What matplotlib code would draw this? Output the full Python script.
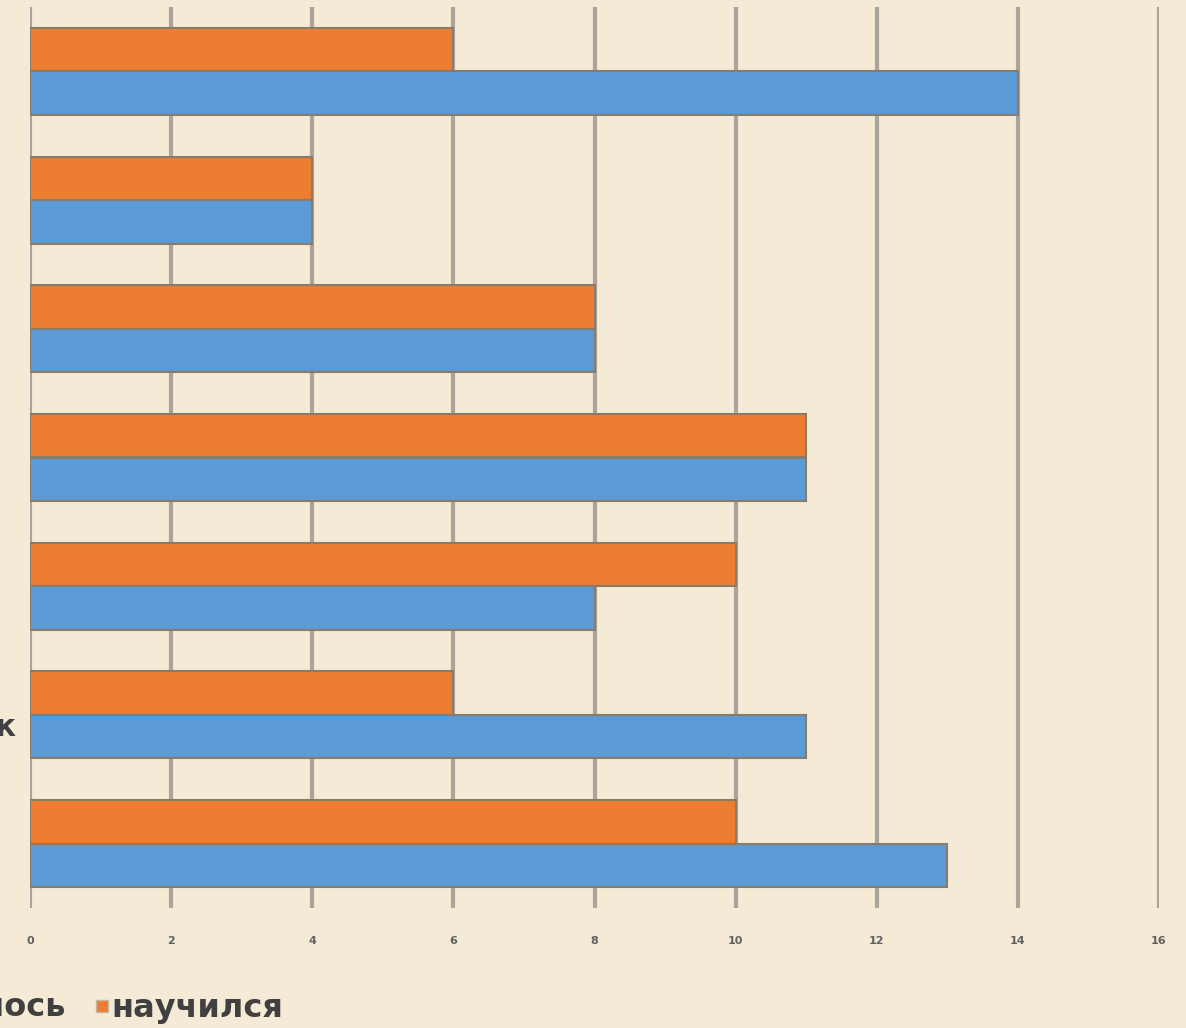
import matplotlib
matplotlib.use("Agg")
import matplotlib.pyplot as plt
import numpy as np

categories = ["1", "2", "3", "4", "5", "6", "7"]
learned = [6, 4, 8, 11, 10, 6, 10]      # научился (orange)
wanted = [14, 4, 8, 11, 8, 11, 13]      # ...ось (blue)
xticks = [0, 2, 4, 6, 8, 10, 12, 14, 16]

W, H = 1186, 1028
fig = plt.figure(figsize=(W / 100, H / 100), dpi=100)
bg = "#F4EAD6"
fig.patch.set_facecolor(bg)
ax = fig.add_axes([30 / W, 1 - 908 / H, (1159 - 30) / W, (908 - 7) / H])
ax.set_facecolor(bg)

y = np.arange(len(categories))
h = 0.338
ax.barh(y - h / 2, learned, height=h, color="#ED7D31", edgecolor="#8a7a6a", linewidth=1.5, zorder=3)
ax.barh(y + h / 2, wanted, height=h, color="#5B9BD5", edgecolor="#8a7a6a", linewidth=1.5, zorder=3)

ax.set_xlim(0, 16)
ax.set_ylim(len(categories) - 0.5, -0.5)
ax.set_xticks(xticks)
ax.set_xticklabels([str(t) for t in xticks], fontsize=8, fontweight="bold", color="#606060")
ax.tick_params(axis="x", length=0, pad=20)
ax.set_yticks([])
for s in ax.spines.values():
    s.set_visible(False)
ax.grid(axis="x", color="#A9A59C", linewidth=3, zorder=1)

# cropped category label
fig.text(16 / W, 1 - 727 / H, "Рисунок", ha="right", va="center", fontsize=22,
         fontweight="bold", color="#404040")

# cropped legend
fig.text(66 / W, 1 - 1008 / H, "хотелось", ha="right", va="center", fontsize=23,
         fontweight="bold", color="#404040")
fig.patches.append(plt.Rectangle((96 / W, 1 - 1012 / H), 12 / W, 12 / H, transform=fig.transFigure,
                                 facecolor="#ED7D31", edgecolor="#c8b8a0", linewidth=1))
fig.text(111 / W, 1 - 1008 / H, "научился", ha="left", va="center", fontsize=23,
         fontweight="bold", color="#404040")

fig.savefig("out.png", dpi=100, facecolor=bg)
